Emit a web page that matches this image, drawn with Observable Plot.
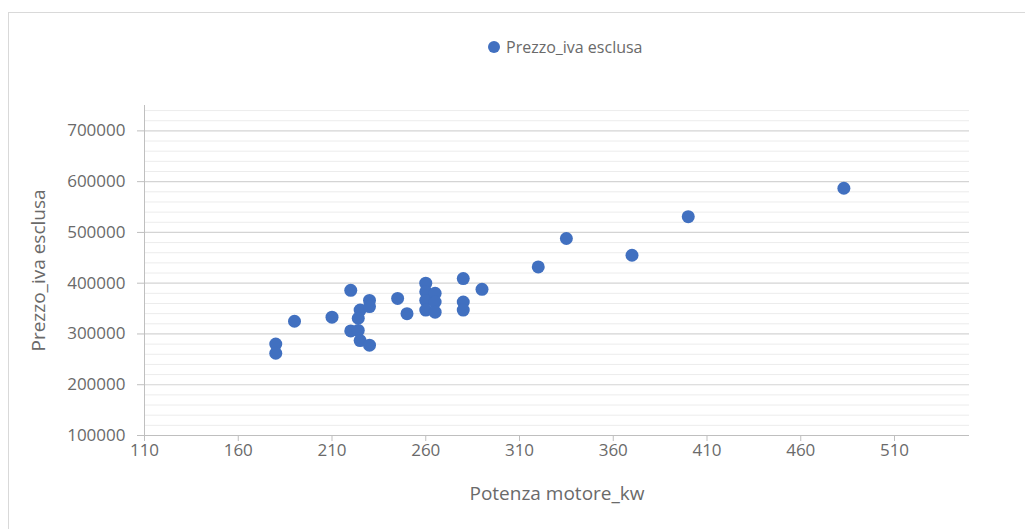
<!DOCTYPE html>
<html>
<head>
<meta charset="utf-8">
<script src="https://cdn.jsdelivr.net/npm/d3@7"></script>
<script src="https://cdn.jsdelivr.net/npm/@observablehq/plot@0.6"></script>
<style>
  html, body { margin: 0; padding: 0; background: #fff; }
  body { width: 1025px; height: 529px; position: relative; overflow: hidden; font-family: "Open Sans", "Liberation Sans", sans-serif; }
  #frame { position: absolute; left: 8px; top: 12px; width: 1030px; height: 530px; border: 1px solid #d9d9d9; box-sizing: border-box; }
  #legend { position: absolute; left: 488px; top: 36px; height: 22px; display: flex; align-items: center; color: #6a6a6a; font-size: 16px; }
  #legend .sw { width: 12px; height: 12px; border-radius: 50%; background: #4170c0; margin-right: 6px; }
  #chart { position: absolute; left: 0; top: 0; }
</style>
</head>
<body>
<div id="frame"></div>
<div id="legend"><span class="sw"></span><span>Prezzo_iva esclusa</span></div>
<div id="chart"></div>
<script>
const seriesName = "Prezzo_iva esclusa";
const xTitle = "Potenza motore_kw";
const yTitle = "Prezzo_iva esclusa";

const potenza = [180, 180, 190, 210, 220, 220, 225, 224, 224, 225, 230, 230, 230, 245, 250,
                 260, 260, 260, 260, 265, 265, 265, 280, 280, 280, 290, 320, 335, 370, 400, 483];
const prezzo  = [280000, 262000, 325000, 333000, 386000, 306000, 347000, 331000, 307000, 287000,
                 366000, 354000, 278000, 370000, 340000,
                 400000, 383000, 366000, 347000, 380000, 363000, 343000,
                 409000, 363000, 347000, 388000, 432000, 488000, 455000, 531000, 587000];

const xTicks = [110, 160, 210, 260, 310, 360, 410, 460, 510];
const yTicks = [100000, 200000, 300000, 400000, 500000, 600000, 700000];
const yMinor = d3.range(120000, 750000, 20000).filter(v => v % 100000 !== 0);

const data = potenza.map((p, i) => ({potenza: p, prezzo: prezzo[i]}));

const chart = Plot.plot({
  width: 1025,
  height: 529,
  marginLeft: 144,
  marginRight: 56,
  marginTop: 105,
  marginBottom: 94,
  style: {fontFamily: "'Open Sans', sans-serif", fontSize: "17px", color: "#6a6a6a", background: "transparent"},
  x: {domain: [110, 550]},
  y: {domain: [100000, 750000]},
  marks: [
    Plot.ruleY(yMinor, {stroke: "#ececec", strokeWidth: 1}),
    Plot.ruleY(yTicks, {stroke: "#d4d4d4", strokeWidth: 1.2}),
    Plot.axisY({ticks: yTicks, tickFormat: d => String(d), tickSize: 7, tickPadding: 12, stroke: "#bfbfbf", fill: "#6a6a6a", label: null}),
    Plot.axisX({ticks: xTicks, tickFormat: d => String(d), tickSize: 6, tickPadding: 2, stroke: "#bfbfbf", fill: "#6a6a6a", label: null}),
    Plot.ruleX([110], {stroke: "#bfbfbf"}),
    Plot.ruleY([100000], {stroke: "#bfbfbf"}),
    Plot.dot(data, {x: "potenza", y: "prezzo", r: 6.5, fill: "#4170c0", stroke: "none"}),
    Plot.text([yTitle], {frameAnchor: "left", dx: -106, rotate: -90, fontSize: 19, fill: "#6a6a6a", textAnchor: "middle"}),
    Plot.text([xTitle], {frameAnchor: "bottom", dy: 64, fontSize: 19, fill: "#6a6a6a", textAnchor: "middle"})
  ]
});
document.getElementById("chart").appendChild(chart);
</script>
</body>
</html>
